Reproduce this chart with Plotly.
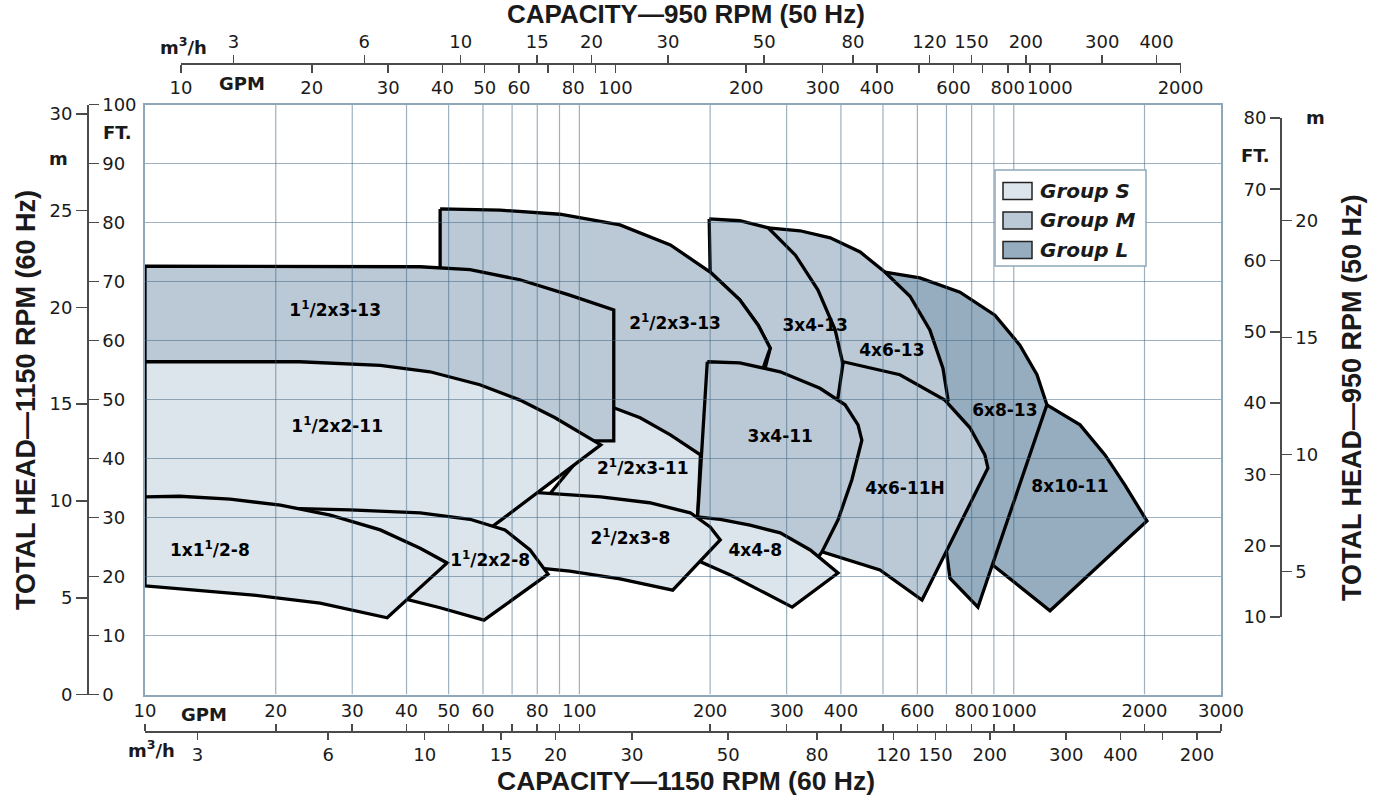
import math
import plotly.graph_objects as go

W, H = 1378, 797

GPM_PER_M3H = 4.403
FT_PER_M = 3.2808
RPM_60, RPM_50 = 1150, 950

# ---------------- tick values ----------------
BOT_GPM_TICKS = [10, 20, 30, 40, 50, 60, 80, 100, 200, 300, 400, 600, 800, 1000, 2000, 3000]
BOT_GPM_MINOR = [70, 90, 500, 700, 900]
BOT_M3H_TICKS = [3, 6, 10, 15, 20, 30, 50, 80, 120, 150, 200, 300, 400, 600]
BOT_M3H_TEXT = ["3", "6", "10", "15", "20", "30", "50", "80", "120", "150", "200", "300", "400", "200"]
BOT_M3H_MINOR = [500]
TOP_GPM_TICKS = [10, 20, 30, 40, 50, 60, 80, 100, 200, 300, 400, 600, 800, 1000, 2000]
TOP_GPM_MINOR = [70, 90, 500, 700, 900]
TOP_M3H_TICKS = [3, 6, 10, 15, 20, 30, 50, 80, 120, 150, 200, 300, 400]
LEFT_FT_TICKS = [0, 10, 20, 30, 40, 50, 60, 70, 80, 90, 100]
LEFT_M_TICKS = [0, 5, 10, 15, 20, 25, 30]
RIGHT_FT_TICKS = [10, 20, 30, 40, 50, 60, 70, 80]
RIGHT_M_TICKS = [5, 10, 15, 20]
GRID_GPM = [20, 30, 40, 50, 60, 70, 80, 90, 100, 200, 300, 400, 500, 600, 700, 800, 900, 1000, 2000]
GRID_FT = [10, 20, 30, 40, 50, 60, 70, 80, 90]

# ---------------- pump ranges (GPM @1150 rpm, ft @60 Hz) ----------------
R_8X10_11_GPM = [1192, 1421, 1622, 1803, 2026, 1212, 896, 929]
R_8X10_11_FT = [49.1, 45.7, 40.6, 35.5, 29.4, 14.2, 21.9, 33.0]

R_6X8_13_GPM = [505, 608, 752, 905, 1033, 1131, 1192, 827, 713, 676, 547]
R_6X8_13_FT = [71.6, 70.6, 68.2, 64.3, 59.2, 54.2, 49.1, 14.8, 19.7, 33.0, 49.9]

R_4X6_13_GPM = [272, 322, 378, 443, 505, 577, 641, 687, 706, 547, 322, 290]
R_4X6_13_FT = [79.1, 78.6, 77.4, 75.0, 71.6, 67.5, 61.8, 55.3, 49.9, 46.5, 46.5, 66.9]

R_3X4_13_GPM = [199, 234, 272, 314, 354, 388, 405, 405, 266, 266, 275, 258, 234, 200]
R_3X4_13_FT = [80.6, 80.3, 79.1, 74.5, 68.6, 61.8, 55.8, 48.2, 48.2, 54.5, 58.7, 62.6, 66.9, 71.6]

R_25X3_13_GPM = [47.8, 65.7, 90.2, 124, 162, 200, 234, 258, 275, 263, 234, 190, 145, 118, 47.8]
R_25X3_13_FT = [82.3, 82.1, 81.4, 79.6, 76.2, 71.6, 66.9, 62.6, 58.7, 54.7, 46.5, 38.1, 38.1, 44.8, 44.8]

R_25X3_11_GPM = [106, 120, 138, 162, 190, 187, 153, 112, 83.3, 106]
R_25X3_11_FT = [49.2, 48.6, 46.9, 44.0, 40.6, 29.6, 30.9, 32.1, 33.0, 42.3]

R_15X3_13_GPM = [10, 43, 56, 73, 95, 112, 120, 120, 110, 10]
R_15X3_13_FT = [72.6, 72.5, 72.0, 70.3, 67.7, 66.0, 65.2, 43.0, 43.0, 43.0]

R_4X6_11H_GPM = [405, 547, 694, 793, 858, 872, 615, 492, 362, 378]
R_4X6_11H_FT = [56.4, 54.2, 49.9, 45.2, 40.6, 38.4, 16.0, 21.1, 24.2, 41.4]

R_3X4_11_GPM = [197, 234, 290, 358, 409, 438, 447, 424, 394, 362, 349, 260, 190, 187]
R_3X4_11_FT = [56.4, 56.2, 54.7, 51.9, 49.1, 45.7, 43.1, 36.4, 29.6, 24.2, 22.5, 26.2, 27.9, 29.6]

R_4X4_8_GPM = [171, 211, 247, 290, 340, 394, 309, 260, 222, 190, 171]
R_4X4_8_FT = [30.4, 29.7, 28.7, 27.4, 24.5, 20.6, 14.8, 17.7, 20.3, 22.5, 25.3]

R_25X3_8_GPM = [77, 112, 145, 180, 200, 211, 164, 124, 95, 81, 65.7, 61.6]
R_25X3_8_FT = [34.3, 33.5, 32.5, 30.8, 28.4, 26.2, 17.7, 19.6, 20.9, 21.4, 23.6, 28.4]

R_15X2_11_GPM = [10, 22.7, 34.8, 45.3, 59, 73, 87.9, 100, 112, 62.9, 22.7, 10]
R_15X2_11_FT = [56.4, 56.4, 55.8, 54.7, 52.5, 49.9, 46.9, 44.5, 42.3, 28.4, 28.4, 28.4]

R_15X2_8_GPM = [15.7, 20.5, 29.6, 43, 56, 67.4, 77, 84.7, 60.3, 47.8, 38.6, 22.7, 15.7]
R_15X2_8_FT = [32.0, 31.6, 31.3, 30.8, 29.7, 27.9, 24.5, 20.4, 12.6, 14.7, 16.4, 18.6, 19.4]

R_1X15_8_GPM = [10, 12, 15.7, 20.5, 26.7, 34.8, 43, 49.6, 36.1, 25.3, 17.5, 10]
R_1X15_8_FT = [33.5, 33.6, 33.1, 32.1, 30.4, 27.9, 24.8, 22.3, 13.0, 15.5, 16.9, 18.4]

# drawing order (back to front)
REGION_NAMES = ["8x10-11", "6x8-13", "4x6-13", "3x4-13", "2½x3-13", "2½x3-11", "1½x3-13",
                "4x6-11H", "3x4-11", "4x4-8", "2½x3-8", "1½x2-11", "1½x2-8", "1x1½-8"]
REGION_GROUP = ["L", "L", "M", "M", "M", "S", "M", "M", "M", "S", "S", "S", "S", "S"]
REGION_GPM = [R_8X10_11_GPM, R_6X8_13_GPM, R_4X6_13_GPM, R_3X4_13_GPM, R_25X3_13_GPM, R_25X3_11_GPM,
              R_15X3_13_GPM, R_4X6_11H_GPM, R_3X4_11_GPM, R_4X4_8_GPM, R_25X3_8_GPM, R_15X2_11_GPM,
              R_15X2_8_GPM, R_1X15_8_GPM]
REGION_FT = [R_8X10_11_FT, R_6X8_13_FT, R_4X6_13_FT, R_3X4_13_FT, R_25X3_13_FT, R_25X3_11_FT,
             R_15X3_13_FT, R_4X6_11H_FT, R_3X4_11_FT, R_4X4_8_FT, R_25X3_8_FT, R_15X2_11_FT,
             R_15X2_8_FT, R_1X15_8_FT]

LABEL_TEXT = ["8x10-11", "6x8-13", "4x6-13", "3x4-13", "2<sup>1</sup>/2x3-13", "2<sup>1</sup>/2x3-11",
              "1<sup>1</sup>/2x3-13", "4x6-11H", "3x4-11", "4x4-8", "2<sup>1</sup>/2x3-8",
              "1<sup>1</sup>/2x2-11", "1<sup>1</sup>/2x2-8", "1x1<sup>1</sup>/2-8"]
LABEL_GPM = [1347, 954, 524, 349, 166, 140, 27.4, 562, 290, 254, 131, 27.7, 62.3, 14.1]
LABEL_FT = [35.0, 47.9, 58.1, 62.3, 62.6, 38.1, 64.8, 34.7, 43.5, 24.2, 26.2, 45.2, 22.5, 24.2]

GROUP_NAMES = ["S", "M", "L"]
GROUP_FILL = {"S": "#dce5eb", "M": "#bac9d5", "L": "#96adbf"}

# ---------------- geometry (layout) ----------------
PX_L, PX_R, PX_T, PX_B = 145, 1221, 104.5, 694.5
X_MIN, X_MAX = 10, 3000
dom_x = [PX_L / W, PX_R / W]
dom_y = [1 - PX_B / H, 1 - PX_T / H]
lx0, lx1 = math.log10(X_MIN), math.log10(X_MAX)


def xfrac(g):
    return dom_x[0] + (math.log10(g) - lx0) / (lx1 - lx0) * (dom_x[1] - dom_x[0])


k = RPM_60 / RPM_50
top_dom = [xfrac(10 * k), xfrac(2000 * k)]
right_dom = [1 - 617 / H, 1 - 118 / H]

TXT = "#1a1a1a"
AX = "#4a4a4a"
BORDER = "#8ea8ba"
tick_font = dict(family="DejaVu Sans", size=18, color=TXT)


def tick_axis(ticklen=10, minor_vals=None, **kw):
    d = dict(ticks="outside", ticklen=ticklen, tickwidth=1.6, tickcolor=AX, showline=True,
             linecolor=AX, linewidth=1.6, showgrid=False, zeroline=False, tickfont=tick_font,
             tickmode="array", tickangle=0, automargin=False, fixedrange=True)
    if minor_vals:
        d["minor"] = dict(tickmode="array", tickvals=minor_vals, ticks="outside", ticklen=ticklen,
                          tickwidth=1.6, tickcolor=AX, showgrid=False)
    d.update(kw)
    return d


fig = go.Figure()

# regions
for name, grp, gx, gy in zip(REGION_NAMES, REGION_GROUP, REGION_GPM, REGION_FT):
    fig.add_trace(go.Scatter(x=gx + [gx[0]], y=gy + [gy[0]], mode="lines", fill="toself",
                             fillcolor=GROUP_FILL[grp], line=dict(color="black", width=3.3),
                             name=name, hoverinfo="skip", showlegend=False))

# grid lines over the fills
gxs, gys = [], []
for g in GRID_GPM:
    gxs += [g, g, None]
    gys += [0, 100, None]
for f in GRID_FT:
    gxs += [X_MIN, X_MAX, None]
    gys += [f, f, None]
fig.add_trace(go.Scatter(x=gxs, y=gys, mode="lines", line=dict(color="rgba(60,100,130,0.5)", width=1.2),
                         hoverinfo="skip", showlegend=False))

# labels
fig.add_trace(go.Scatter(x=LABEL_GPM, y=LABEL_FT, mode="text",
                         text=["<b>" + t + "</b>" for t in LABEL_TEXT],
                         textfont=dict(family="DejaVu Sans", size=17, color="black"),
                         hoverinfo="skip", showlegend=False))

# dummy traces so that every auxiliary axis is drawn
for xa, ya in [("x2", "y"), ("x3", "y"), ("x4", "y"), ("x5", "y"),
               ("x", "y2"), ("x", "y3"), ("x", "y4"), ("x", "y5")]:
    fig.add_trace(go.Scatter(x=[None], y=[None], xaxis=xa, yaxis=ya, mode="markers",
                             hoverinfo="skip", showlegend=False))

BOT_LINE = 731
TOP_LINE = 63

fig.update_layout(
    template="none",
    width=W, height=H, margin=dict(l=0, r=0, t=0, b=0, pad=0, autoexpand=False),
    paper_bgcolor="white", plot_bgcolor="rgba(0,0,0,0)",
    showlegend=False, hovermode=False, dragmode=False,
    font=dict(family="DejaVu Sans", size=18, color=TXT),
    xaxis=dict(type="log", range=[lx0, lx1], domain=dom_x, anchor="y", showgrid=False, zeroline=False,
               showline=True, mirror=True, linecolor=BORDER, linewidth=2, ticks="", showticklabels=False,
               automargin=False, fixedrange=True),
    yaxis=dict(range=[0, 100], domain=dom_y, anchor="x", showgrid=False, zeroline=False,
               showline=True, mirror=True, linecolor=BORDER, linewidth=2, ticks="", showticklabels=False,
               automargin=False, fixedrange=True),
    # bottom: GPM (60 Hz) above the line, m3/h below
    xaxis2=tick_axis(7, BOT_GPM_MINOR, type="log", range=[lx0, lx1], overlaying="x", anchor="free",
                     position=1 - BOT_LINE / H, side="top", tickvals=BOT_GPM_TICKS,
                     ticktext=[str(v) for v in BOT_GPM_TICKS]),
    xaxis3=tick_axis(7, BOT_M3H_MINOR, type="log",
                     range=[math.log10(X_MIN / GPM_PER_M3H), math.log10(X_MAX / GPM_PER_M3H)],
                     overlaying="x", anchor="free", position=1 - BOT_LINE / H, side="bottom",
                     tickvals=BOT_M3H_TICKS, ticktext=BOT_M3H_TEXT),
    # top: m3/h (50 Hz) above the line, GPM below
    xaxis4=tick_axis(8, TOP_GPM_MINOR, type="log", range=[1, math.log10(2000)], domain=top_dom,
                     anchor="free", position=1 - TOP_LINE / H, side="bottom", tickvals=TOP_GPM_TICKS,
                     ticktext=[str(v) for v in TOP_GPM_TICKS]),
    xaxis5=tick_axis(8, None, type="log",
                     range=[math.log10(10 / GPM_PER_M3H), math.log10(2000 / GPM_PER_M3H)],
                     overlaying="x4", anchor="free", position=1 - TOP_LINE / H, side="top",
                     tickvals=TOP_M3H_TICKS, ticktext=[str(v) for v in TOP_M3H_TICKS]),
    # left: ft and m (60 Hz)
    yaxis2=tick_axis(10, None, range=[0, 100], overlaying="y", anchor="free", position=87 / W, side="right",
                     tickvals=LEFT_FT_TICKS, ticktext=[str(v) for v in LEFT_FT_TICKS]),
    yaxis3=tick_axis(11, None, range=[0, 100 / FT_PER_M], overlaying="y", anchor="free", position=87 / W,
                     side="left", tickvals=LEFT_M_TICKS, ticktext=[str(v) for v in LEFT_M_TICKS]),
    # right: ft and m (50 Hz)
    yaxis4=tick_axis(10, None, range=[10, 80], domain=right_dom, anchor="free", position=1280 / W, side="left",
                     tickvals=RIGHT_FT_TICKS, ticktext=[str(v) for v in RIGHT_FT_TICKS]),
    yaxis5=tick_axis(10, None, range=[10 / FT_PER_M, 80 / FT_PER_M], overlaying="y4", anchor="free",
                     position=1280 / W, side="right", tickvals=RIGHT_M_TICKS,
                     ticktext=[str(v) for v in RIGHT_M_TICKS]),
)


def px(x, y):
    return x / W, 1 - y / H


def add_text(x, y, text, size=18, family="DejaVu Sans", angle=0, xanchor="center"):
    xp, yp = px(x, y)
    fig.add_annotation(x=xp, y=yp, xref="paper", yref="paper", text=text, showarrow=False,
                       xanchor=xanchor, yanchor="middle", textangle=angle,
                       font=dict(family=family, size=size, color=TXT))


TITLE_FONT = "Liberation Sans"
add_text(686, 14, "<b>CAPACITY—950 RPM (50 Hz)</b>", size=26, family=TITLE_FONT)
add_text(686, 781, "<b>CAPACITY—1150 RPM (60 Hz)</b>", size=26.5, family=TITLE_FONT)
add_text(26, 400, "<b>TOTAL HEAD—1150 RPM (60 Hz)</b>", size=27, family=TITLE_FONT, angle=-90)
add_text(1352, 398, "<b>TOTAL HEAD—950 RPM (50 Hz)</b>", size=27, family=TITLE_FONT, angle=-90)
add_text(183, 46, "<b>m<sup>3</sup>/h</b>")
add_text(242, 83, "<b>GPM</b>")
add_text(204, 714, "<b>GPM</b>")
add_text(151, 749, "<b>m<sup>3</sup>/h</b>")
add_text(117, 132, "<b>FT.</b>")
add_text(58, 158, "<b>m</b>")
add_text(1255, 155, "<b>FT.</b>")
add_text(1315, 117, "<b>m</b>")

# legend box
lx0p, ly0p = px(995, 266)
lx1p, ly1p = px(1146, 170)
fig.add_shape(type="rect", xref="paper", yref="paper", x0=lx0p, x1=lx1p, y0=ly0p, y1=ly1p,
              fillcolor="white", line=dict(color=BORDER, width=1.5))
for i, g in enumerate(GROUP_NAMES):
    cy = 191 + i * 29.5
    a0, b0 = px(1003, cy + 8.5)
    a1, b1 = px(1032, cy - 8.5)
    fig.add_shape(type="rect", xref="paper", yref="paper", x0=a0, x1=a1, y0=b0, y1=b1,
                  fillcolor=GROUP_FILL[g], line=dict(color="#222", width=1.5))
    add_text(1038, cy, "<b><i>Group " + g + "</i></b>", size=20, xanchor="left")

fig.write_html("out.html", config={"displayModeBar": False, "staticPlot": True},
               post_script="document.body.style.margin='0';document.body.style.overflow='hidden';")
